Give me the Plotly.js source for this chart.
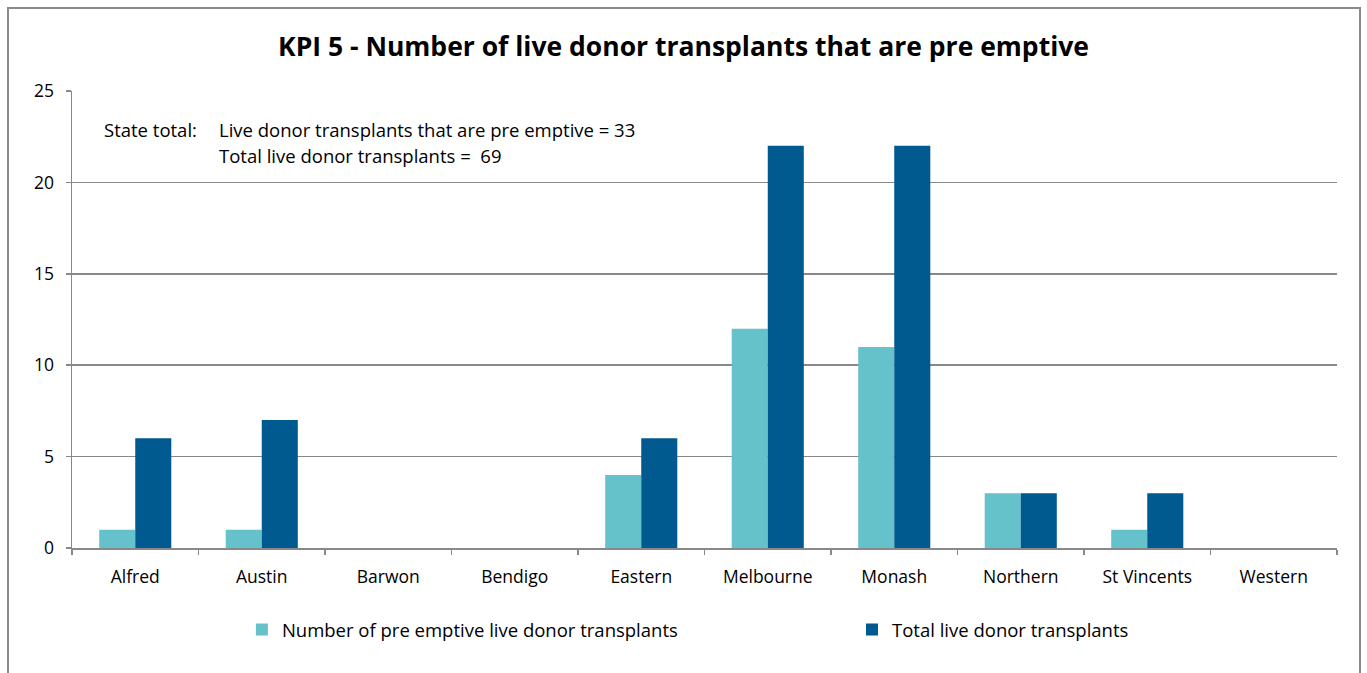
<!DOCTYPE html>
<html><head><meta charset="utf-8">
<script src="https://cdn.plot.ly/plotly-3.0.1.min.js"></script>
<style>
html,body{margin:0;padding:0;background:#fff;}
#chart{position:absolute;left:0;top:0;width:1367px;height:673px;}
#frame{position:absolute;left:7px;top:7px;width:1350px;height:700px;border:2px solid #8a8a8a;pointer-events:none;}
</style>
</head><body>
<div id="chart"></div>
<div id="frame"></div>
<script>
const categories = ["Alfred","Austin","Barwon","Bendigo","Eastern","Melbourne","Monash","Northern","St Vincents","Western"];
const preEmptive = [1,1,0,0,4,12,11,3,1,0];
const totalLive = [6,7,0,0,6,22,22,3,3,0];
const seriesNames = ["Number of pre emptive live donor transplants","Total live donor transplants"];
const yTicks = [0,5,10,15,20,25];
const titleText = "KPI 5 - Number of live donor transplants that are pre emptive";
const noteLabel = "State total:";
const noteLine1 = "Live donor transplants that are pre emptive = 33";
const noteLine2 = "Total live donor transplants =  69";

const font = "'Open Sans', sans-serif";
const traces = [
  {type:"bar", x:categories, y:preEmptive, name:seriesNames[0], marker:{color:"#66C2CA"}, legend:"legend"},
  {type:"bar", x:categories, y:totalLive, name:seriesNames[1], marker:{color:"#00598F"}, legend:"legend2"}
];
const legendBase = {orientation:"h", xanchor:"left", y:-0.1794, yanchor:"middle", font:{family:font, size:18.5, color:"#000"}, bgcolor:"rgba(0,0,0,0)"};
const layout = {
  width:1367, height:673,
  margin:{l:72, r:30, t:91, b:125},
  paper_bgcolor:"#fff", plot_bgcolor:"#fff",
  font:{family:font, size:17.5, color:"#000"},
  title:{text:"<b>"+titleText+"</b>", font:{family:font, size:26.5, color:"#000"}, x:0.5, xanchor:"center", y:0.93, yanchor:"middle"},
  barmode:"group", bargap:0.43, bargroupgap:0,
  xaxis:{type:"category", showline:true, linecolor:"#888", linewidth:1.5, ticks:"outside", tickson:"boundaries", ticklen:5, tickcolor:"#888", tickwidth:1.5, showgrid:false, ticklabelstandoff:12, tickfont:{size:17.5}},
  yaxis:{range:[0,25], tickvals:yTicks, showline:true, linecolor:"#888", linewidth:1.5, ticks:"outside", ticklen:5, tickcolor:"#888", tickwidth:1.5, gridcolor:"#888", gridwidth:1.5, zeroline:false, ticklabelstandoff:8, tickfont:{size:17.5}},
  showlegend:true,
  legend:Object.assign({x:0.1343}, legendBase),
  legend2:Object.assign({x:0.6166}, legendBase),
  annotations:[
    {xref:"paper", yref:"paper", x:0.0237, y:0.9147, xanchor:"left", yanchor:"middle", text:noteLabel, showarrow:false, font:{size:18.5}},
    {xref:"paper", yref:"paper", x:0.1146, y:0.9147, xanchor:"left", yanchor:"middle", text:noteLine1, showarrow:false, font:{size:18.5}},
    {xref:"paper", yref:"paper", x:0.1146, y:0.8578, xanchor:"left", yanchor:"middle", text:noteLine2, showarrow:false, font:{size:18.5}}
  ]
};
Plotly.newPlot("chart", traces, layout, {displayModeBar:false, staticPlot:true});
</script>
</body></html>
